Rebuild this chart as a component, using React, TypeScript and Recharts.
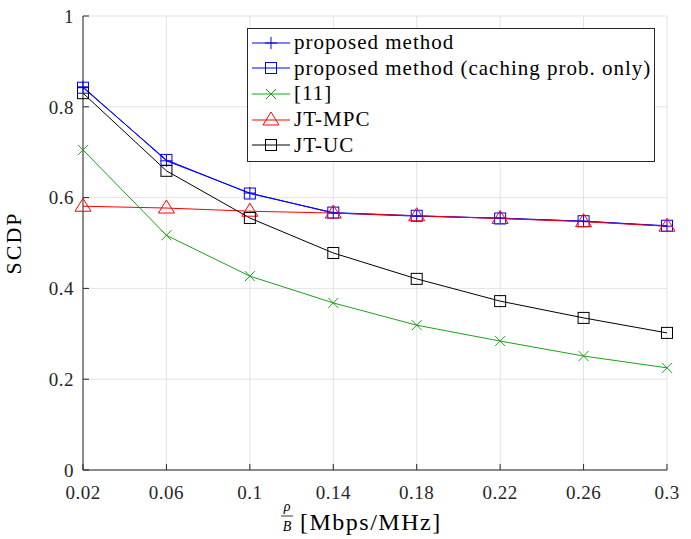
import { LineChart, Line, XAxis, YAxis, CartesianGrid, Label } from 'recharts';

const rho = [0.02, 0.06, 0.1, 0.14, 0.18, 0.22, 0.26, 0.3];
const proposed = [0.844, 0.681, 0.61, 0.566, 0.559, 0.555, 0.548, 0.537];
const cachingOnly = [0.842, 0.683, 0.609, 0.567, 0.56, 0.554, 0.548, 0.538];
const ref11 = [0.705, 0.517, 0.427, 0.368, 0.319, 0.284, 0.251, 0.225];
const jtMpc = [0.581, 0.577, 0.57, 0.566, 0.56, 0.554, 0.547, 0.537];
const jtUc = [0.83, 0.659, 0.555, 0.478, 0.421, 0.372, 0.335, 0.302];
const yTicks = [0, 0.2, 0.4, 0.6, 0.8, 1];

const FONT = "'Liberation Serif', 'Times New Roman', Tinos, 'DejaVu Serif', 'Noto Serif', serif";
const AXIS = '#262626';

const data = rho.map((r, i) => ({
  rho: r,
  proposed: proposed[i],
  cachingOnly: cachingOnly[i],
  ref11: ref11[i],
  jtMpc: jtMpc[i],
  jtUc: jtUc[i],
}));

type Marker = 'plus' | 'square' | 'x' | 'triangle';

function MarkerShape({ kind, x, y, color }: { kind: Marker; x: number; y: number; color: string }) {
  if (kind === 'plus')
    return <path d={`M${x - 6},${y}H${x + 6}M${x},${y - 6}V${y + 6}`} stroke={color} strokeWidth={1} fill="none" />;
  if (kind === 'square')
    return <rect x={x - 5.5} y={y - 5.5} width={11} height={11} stroke={color} strokeWidth={1} fill="none" />;
  if (kind === 'x')
    return <path d={`M${x - 5},${y - 5}L${x + 5},${y + 5}M${x - 5},${y + 5}L${x + 5},${y - 5}`} stroke={color} strokeWidth={1} fill="none" />;
  return <path d={`M${x},${y - 8}L${x + 8},${y + 5}L${x - 8},${y + 5}Z`} stroke={color} strokeWidth={1} fill="none" />;
}

const dotFor = (kind: Marker, color: string) => (p: any) => (
  <MarkerShape key={`${kind}-${color}-${p.index}`} kind={kind} x={p.cx} y={p.cy} color={color} />
);

const series: { key: string; name: string; color: string; marker: Marker }[] = [
  { key: 'proposed', name: 'proposed method', color: '#0000ff', marker: 'plus' },
  { key: 'cachingOnly', name: 'proposed method (caching prob. only)', color: '#0000ff', marker: 'square' },
  { key: 'ref11', name: '[11]', color: '#1ca01c', marker: 'x' },
  { key: 'jtMpc', name: 'JT-MPC', color: '#ff0000', marker: 'triangle' },
  { key: 'jtUc', name: 'JT-UC', color: '#000000', marker: 'square' },
];

function XLabel(props: any) {
  const { x, width } = props.viewBox;
  const cx = x + width / 2 - 88;
  return (
    <g style={{ fontFamily: FONT }} fill="#000">
      <text x={cx} y={511} fontSize={14} fontStyle="italic" textAnchor="middle">ρ</text>
      <line x1={cx - 6} x2={cx + 6} y1={516} y2={516} stroke="#000" strokeWidth={0.8} />
      <text x={cx} y={531} fontSize={14} fontStyle="italic" textAnchor="middle">B</text>
      <text x={cx + 13} y={530} fontSize={24} letterSpacing={1.5}>[Mbps/MHz]</text>
    </g>
  );
}

function ChartLegend() {
  return (
    <div
      style={{
        position: 'absolute',
        left: 247,
        top: 28,
        width: 408,
        height: 134,
        border: `1px solid ${AXIS}`,
        background: '#fff',
        fontFamily: FONT,
        fontSize: 21,
        letterSpacing: 1,
        boxSizing: 'border-box',
        paddingTop: 1,
      }}
    >
      {series.map((s) => (
        <div key={s.key} style={{ display: 'flex', alignItems: 'center', height: 25.6 }}>
          <svg width={46} height={20} style={{ flex: 'none' }}>
            <line x1={4} x2={42} y1={10} y2={10} stroke={s.color} strokeWidth={1} />
            <MarkerShape kind={s.marker} x={23} y={10} color={s.color} />
          </svg>
          <span style={{ whiteSpace: 'nowrap' }}>{s.name}</span>
        </div>
      ))}
    </div>
  );
}

export default function App() {
  return (
    <div style={{ position: 'absolute', left: 0, top: 0, width: 691, height: 539, background: '#fff', fontFamily: FONT }}>
      <LineChart width={691} height={539} data={data} margin={{ top: 16, right: 24, bottom: 29, left: 33 }}>
        <CartesianGrid stroke="#e3e3e3" strokeWidth={1} />
        <XAxis
          dataKey="rho"
          type="number"
          domain={[0.02, 0.3]}
          ticks={rho}
          height={40}
          stroke={AXIS}
          tickSize={-6}
          tickMargin={22}
          tick={{ fill: AXIS, fontSize: 19, letterSpacing: 0.5, style: { fontFamily: FONT } }}
        >
          <Label content={XLabel} />
        </XAxis>
        <XAxis xAxisId="top" orientation="top" dataKey="rho" type="number" domain={[0.02, 0.3]} ticks={rho} height={0} stroke={AXIS} tickSize={-6} tick={false} />
        <YAxis
          type="number"
          domain={[0, 1]}
          ticks={yTicks}
          width={50}
          stroke={AXIS}
          tickSize={-6}
          tickMargin={15}
          tick={{ fill: AXIS, fontSize: 19, letterSpacing: 0.5, style: { fontFamily: FONT } }}
        >
          <Label
            value="SCDP"
            angle={-90}
            position="insideLeft"
            offset={-20}
            style={{ fontFamily: FONT, fontSize: 22, letterSpacing: 2, fill: '#000', textAnchor: 'middle' }}
          />
        </YAxis>
        <YAxis yAxisId="right" orientation="right" type="number" domain={[0, 1]} ticks={yTicks} width={0} stroke={AXIS} tickSize={-6} tick={false} />
        {series.map((s) => (
          <Line
            key={s.key}
            dataKey={s.key}
            name={s.name}
            stroke={s.color}
            strokeWidth={1}
            dot={dotFor(s.marker, s.color)}
            activeDot={false}
            isAnimationActive={false}
          />
        ))}
      </LineChart>
      <ChartLegend />
    </div>
  );
}
